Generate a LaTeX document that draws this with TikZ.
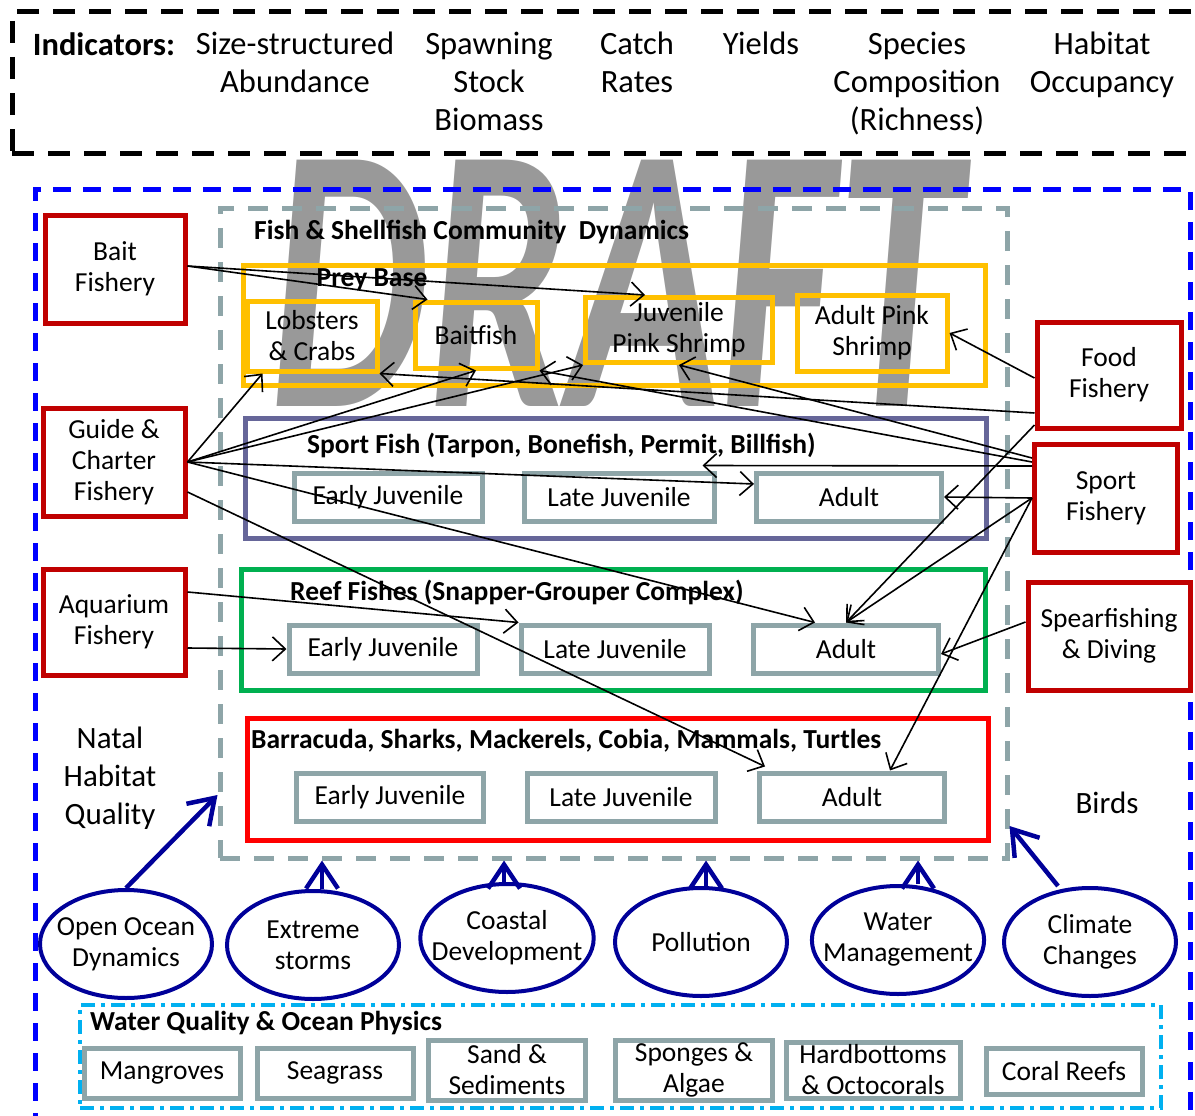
\documentclass[tikz,border=0pt]{standalone}
\usepackage{fontspec}
\setmainfont{Carlito}
\usepackage{tikz}
\usetikzlibrary{arrows.meta,positioning,shapes.geometric}

\definecolor{fishred}{HTML}{C00000}
\definecolor{preyorange}{HTML}{FFC000}
\definecolor{sportpurple}{HTML}{666699}
\definecolor{reefgreen}{HTML}{00B050}
\definecolor{predred}{HTML}{FF0000}
\definecolor{stagegrey}{HTML}{8EA5A8}
\definecolor{outerblue}{HTML}{0000FF}
\definecolor{drivernavy}{HTML}{000099}
\definecolor{waterblue}{HTML}{00B0F0}

\tikzset{% 
  fishery/.style={%
    draw=fishred, line width=5pt, align=center, inner sep=0pt,
    minimum width=142pt, minimum height=108pt,
    font=\fontsize{27.5}{31}\selectfont
  }
}
\tikzset{% 
  preybox/.style={%
    draw=preyorange, line width=5pt, align=center, inner sep=0pt,
    font=\fontsize{27.5}{31}\selectfont
  }
}
\tikzset{% 
  stagebox/.style={%
    draw=stagegrey, line width=5pt, inner sep=0pt,
    minimum height=48pt, font=\fontsize{27.5}{31}\selectfont
  }
}
\tikzset{% 
  habitatbox/.style={%
    draw=stagegrey, line width=5pt, align=center, inner sep=0pt,
    font=\fontsize{27.5}{31}\selectfont
  }
}
\tikzset{% 
  driver/.style={%
    ellipse, draw=drivernavy, line width=4pt, align=center,
    inner xsep=-14pt, inner ysep=0pt,
    minimum width=172pt, minimum height=108pt,
    font=\fontsize{27.5}{31}\selectfont
  }
}
\tikzset{% 
  group/.style={%
    line width=5pt, inner sep=0pt
  }
}
\tikzset{% 
  grouptitle/.style={%
    anchor=west, inner sep=0pt, font=\fontsize{27.5}{31}\selectfont\bfseries
  }
}
\tikzset{% 
  indtext/.style={%
    anchor=north, inner sep=0pt, align=center, font=\fontsize{32.5}{38}\selectfont
  }
}
\tikzset{% 
  link/.style={%
    draw, line width=1.6pt,
    -{Straight Barb[length=13pt,width=24pt]}
  }
}
\tikzset{% 
  push/.style={%
    draw=drivernavy, line width=4.5pt,
    -{Straight Barb[length=24pt,width=32pt]}
  }
}

\begin{document}
\begin{tikzpicture}[x=1pt,y=-1pt]
  \useasboundingbox (0,0) rectangle (1195,1116);
  \node [text=black!40, inner sep=0pt, xscale=0.66, transform shape,
    font=\fontsize{380}{380}\selectfont\bfseries\itshape] (draft) at (615,283) {DRAFT};

  % indicators
  \node [group, draw=black, dash pattern=on 22pt off 14pt, minimum width=1203pt, minimum height=141pt] (indicators) at (613.5,82.5) {};
  \node [indtext, font=\fontsize{32.5}{38}\selectfont\bfseries] (indlabel) at (104,32) {Indicators:};
  \node [indtext] (abund) at (295,32) {Size-structured\\Abundance};
  \node [indtext] (ssb) at (489,32) {Spawning\\Stock\\Biomass};
  \node [indtext] (catch) at (637,32) {Catch\\Rates};
  \node [indtext] (yields) at (761,32) {Yields};
  \node [indtext] (richness) at (917,32) {Species\\Composition\\(Richness)};
  \node [indtext] (occupancy) at (1102,32) {Habitat\\Occupancy};

  % containers
  \node [group, draw=outerblue, dash pattern=on 18pt off 12pt, minimum width=1155pt, minimum height=936pt] (outer) at (612.5,657) {};
  \node [group, draw=stagegrey, dash pattern=on 20pt off 14pt, minimum width=787pt, minimum height=650pt] (community) at (613.5,533) {};
  \node [grouptitle] (commtitle) at (254,232) {Fish \& Shellfish Community\ \ Dynamics};
  \node [group, draw=preyorange, minimum width=742pt, minimum height=120pt] (preybase) at (614,325) {};
  \node [grouptitle, anchor=center] (preytitle) at (372,280) {Prey Base};
  \node [group, draw=sportpurple, minimum width=741pt, minimum height=120pt] (sportfish) at (615.5,478) {};
  \node [grouptitle] (sporttitle) at (307,445) {Sport Fish (Tarpon, Bonefish, Permit, Billfish)};
  \node [group, draw=reefgreen, minimum width=744pt, minimum height=121pt] (reeffish) at (613,629.5) {};
  \node [grouptitle] (reeftitle) at (290,592) {Reef Fishes (Snapper-Grouper Complex)};
  \node [group, draw=predred, minimum width=741pt, minimum height=122pt] (predators) at (617.5,779) {};
  \node [grouptitle] (predtitle) at (251,741) {Barracuda, Sharks, Mackerels, Cobia, Mammals, Turtles};

  % prey base
  \node [preybox, minimum width=130pt, minimum height=70pt] (lobsters) at (312,336) {Lobsters\\\& Crabs};
  \node [preybox, minimum width=122pt, minimum height=66pt] (baitfish) at (476,335) {Baitfish};
  \node [preybox, minimum width=187pt, minimum height=65pt] (jshrimp) at (679,330) {Juvenile\\Pink Shrimp};
  \node [preybox, minimum width=150pt, minimum height=76pt] (ashrimp) at (872,333) {Adult Pink\\Shrimp};

  % life stages
  \node [stagebox, minimum width=188pt] (searly) at (388,497) {Early Juvenile};
  \node [stagebox, minimum width=190pt] (slate) at (619,497) {Late Juvenile};
  \node [stagebox, minimum width=185pt] (sadult) at (849,497) {Adult};
  \node [stagebox, minimum width=188pt] (rearly) at (383,649) {Early Juvenile};
  \node [stagebox, minimum width=188pt] (rlate) at (615,649) {Late Juvenile};
  \node [stagebox, minimum width=185pt] (radult) at (846,649) {Adult};
  \node [stagebox, minimum width=187pt] (bearly) at (390,797) {Early Juvenile};
  \node [stagebox, minimum width=188pt] (blate) at (621,797) {Late Juvenile};
  \node [stagebox, minimum width=185pt] (badult) at (852,797) {Adult};

  % fisheries
  \node [fishery, minimum width=140pt] (bait) at (115,269) {Bait\\Fishery};
  \node [fishery] (guide) at (114,462) {Guide \&\\Charter\\Fishery};
  \node [fishery, minimum height=106pt] (aquarium) at (114,622) {Aquarium\\Fishery};
  \node [fishery, minimum width=144pt, minimum height=106pt] (food) at (1109,375) {Food\\Fishery};
  \node [fishery, minimum width=143pt] (sport) at (1106,498) {Sport\\Fishery};
  \node [fishery, minimum width=162pt] (spear) at (1109,636) {Spearfishing\\\& Diving};

  \node [indtext, anchor=center, font=\fontsize{31}{38}\selectfont] (natal) at (110,778) {Natal\\Habitat\\Quality};
  \node [indtext, anchor=center, font=\fontsize{31}{38}\selectfont] (birds) at (1107,803) {Birds};

  % drivers
  \node [driver] (ocean) at (126,944) {Open Ocean\\Dynamics};
  \node [driver] (storms) at (313,945) {Extreme\\storms};
  \node [driver] (coastal) at (507,938) {Coastal\\Development};
  \node [driver] (pollution) at (701,942) {Pollution};
  \node [driver] (water) at (898,940) {Water\\Management};
  \node [driver] (climate) at (1090,942) {Climate\\Changes};

  % water quality
  \node [group, draw=waterblue, line width=4pt, dash pattern=on 14pt off 6pt on 4pt off 6pt,
    minimum width=1081pt, minimum height=103pt] (waterq) at (620.5,1056.5) {};
  \node [grouptitle] (wqtitle) at (90,1023) {Water Quality \& Ocean Physics};
  \node [habitatbox, minimum width=156pt, minimum height=50pt] (mangroves) at (162,1073) {Mangroves};
  \node [habitatbox, minimum width=156pt, minimum height=50pt] (seagrass) at (335,1073) {Seagrass};
  \node [habitatbox, minimum width=157pt, minimum height=60pt] (sand) at (507,1070) {Sand \&\\Sediments};
  \node [habitatbox, minimum width=157pt, minimum height=60pt] (sponges) at (694,1070) {Sponges \&\\Algae};
  \node [habitatbox, minimum width=174pt, minimum height=56pt] (hard) at (873,1070) {Hardbottoms\\\& Octocorals};
  \node [habitatbox, minimum width=156pt, minimum height=46pt] (coral) at (1064,1071) {Coral Reefs};

  % driver arrows
  \draw [push] (ocean.north) -- ([yshift=-262pt]community.west);
  \draw [push] ([xshift=9pt]storms.north) -- ([xshift=-291.5pt]community.south);
  \draw [push] ([xshift=-3pt]coastal.north) -- ([xshift=-109.5pt]community.south);
  \draw [push] ([xshift=5pt]pollution.north) -- ([xshift=92.5pt]community.south);
  \draw [push] ([xshift=20pt]water.north) -- ([xshift=304.5pt]community.south);
  \draw [push] ([xshift=-32pt]climate.north) -- ([yshift=-293pt]community.east);

  % fishery links
  \draw [link] ([yshift=3pt]bait.east) -- ([xshift=15pt]baitfish.north west);
  \draw [link] ([yshift=3pt]bait.east) -- ([xshift=-34pt]jshrimp.north);
  \draw [link] (guide.east) -- ([xshift=18pt]lobsters.south west);
  \draw [link] (guide.east) -- (baitfish.south);
  \draw [link] (guide.east) -- (jshrimp.south west);
  \draw [link] (guide.east) -- ([yshift=13pt]sadult.west);
  \draw [link] (guide.east) -- ([xshift=64pt]radult.north west);
  \draw [link] ([yshift=-30pt]guide.east) -- ([xshift=8pt,yshift=4pt]badult.north west);
  \draw [link] ([yshift=30pt]aquarium.east) -- (rlate.north west);
  \draw [link] ([yshift=-26pt]aquarium.east) -- (rearly.west);
  \draw [link] ([yshift=-3pt]food.west) -- (ashrimp.east);
  \draw [link] ([yshift=-38pt]food.west) -- (lobsters.south east);
  \draw [link] ([yshift=-50pt]food.west) -- (radult.north);
  \draw [link] ([yshift=40pt]sport.west) -- (jshrimp.south);
  \draw [link] ([yshift=36pt]sport.west) -- (baitfish.south east);
  \draw [link] ([yshift=32pt]sport.west) -- ([xshift=-14pt,yshift=5pt]slate.north east);
  \draw [link] (sport.west) -- (sadult.east);
  \draw [link] (sport.west) -- (radult.north);
  \draw [link] (sport.west) -- ([xshift=38pt]badult.north);
  \draw [link] ([yshift=14pt]spear.west) -- ([yshift=-5pt]radult.east);
\end{tikzpicture}
\end{document}
